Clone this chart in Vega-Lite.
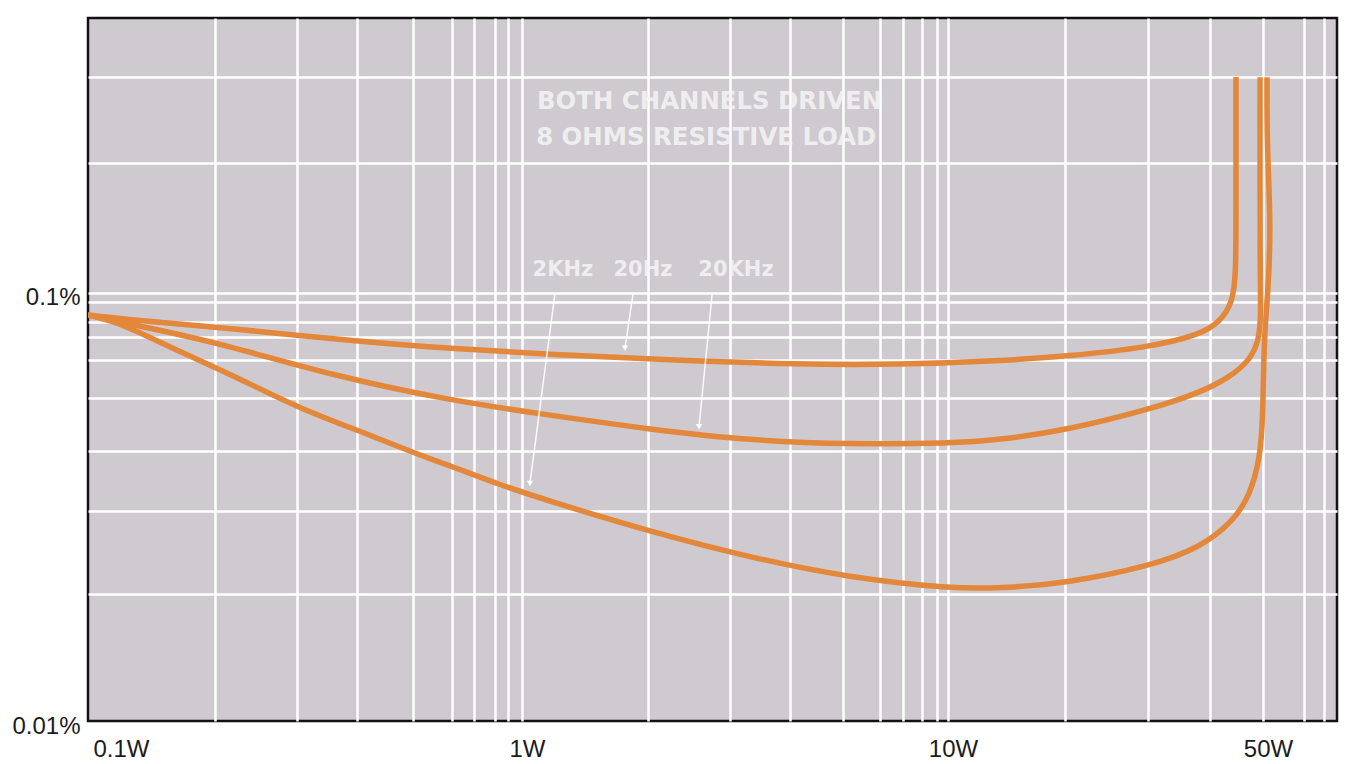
{
  "$schema": "https://vega.github.io/schema/vega-lite/v6.json",
  "width": 1249,
  "height": 703,
  "autosize": {"type": "none"},
  "padding": {"left": 88, "top": 18, "right": 9, "bottom": 43},
  "background": "white",
  "config": {
    "view": {"fill": "#cecacf", "stroke": "#111111", "strokeWidth": 2.5},
    "font": "Liberation Sans"
  },
  "datasets": {
    "curves": [
      {"series": "20Hz", "i": 0, "w": 0.1, "thd": 0.0888},
      {"series": "20Hz", "i": 1, "w": 0.1394, "thd": 0.0857},
      {"series": "20Hz", "i": 2, "w": 0.2028, "thd": 0.0832},
      {"series": "20Hz", "i": 3, "w": 0.4224, "thd": 0.077},
      {"series": "20Hz", "i": 4, "w": 0.695, "thd": 0.0742},
      {"series": "20Hz", "i": 5, "w": 1.187, "thd": 0.0719},
      {"series": "20Hz", "i": 6, "w": 2.028, "thd": 0.07},
      {"series": "20Hz", "i": 7, "w": 4.527, "thd": 0.068},
      {"series": "20Hz", "i": 8, "w": 7.73, "thd": 0.068},
      {"series": "20Hz", "i": 9, "w": 13.21, "thd": 0.0694},
      {"series": "20Hz", "i": 10, "w": 18.91, "thd": 0.0711},
      {"series": "20Hz", "i": 11, "w": 29.5, "thd": 0.0747},
      {"series": "20Hz", "i": 12, "w": 38.55, "thd": 0.0799},
      {"series": "20Hz", "i": 13, "w": 42.9, "thd": 0.0856},
      {"series": "20Hz", "i": 14, "w": 46.0, "thd": 0.0953},
      {"series": "20Hz", "i": 15, "w": 46.75, "thd": 0.1119},
      {"series": "20Hz", "i": 16, "w": 46.75, "thd": 0.1605},
      {"series": "20Hz", "i": 17, "w": 46.75, "thd": 0.2400},
      {"series": "20Hz", "i": 18, "w": 46.75, "thd": 0.3197},
      {"series": "20KHz", "i": 0, "w": 0.1, "thd": 0.0888},
      {"series": "20KHz", "i": 1, "w": 0.1143, "thd": 0.0864},
      {"series": "20KHz", "i": 2, "w": 0.1372, "thd": 0.083},
      {"series": "20KHz", "i": 3, "w": 0.2028, "thd": 0.0763},
      {"series": "20KHz", "i": 4, "w": 0.3753, "thd": 0.0639},
      {"series": "20KHz", "i": 5, "w": 0.695, "thd": 0.0561},
      {"series": "20KHz", "i": 6, "w": 1.187, "thd": 0.0518},
      {"series": "20KHz", "i": 7, "w": 2.028, "thd": 0.048},
      {"series": "20KHz", "i": 8, "w": 3.464, "thd": 0.0452},
      {"series": "20KHz", "i": 9, "w": 5.918, "thd": 0.0443},
      {"series": "20KHz", "i": 10, "w": 10.11, "thd": 0.0445},
      {"series": "20KHz", "i": 11, "w": 13.21, "thd": 0.0454},
      {"series": "20KHz", "i": 12, "w": 18.91, "thd": 0.0478},
      {"series": "20KHz", "i": 13, "w": 29.5, "thd": 0.0535},
      {"series": "20KHz", "i": 14, "w": 38.55, "thd": 0.0585},
      {"series": "20KHz", "i": 15, "w": 45.26, "thd": 0.0636},
      {"series": "20KHz", "i": 16, "w": 50.4, "thd": 0.0697},
      {"series": "20KHz", "i": 17, "w": 52.9, "thd": 0.0776},
      {"series": "20KHz", "i": 18, "w": 53.45, "thd": 0.0887},
      {"series": "20KHz", "i": 19, "w": 53.17, "thd": 0.1225},
      {"series": "20KHz", "i": 20, "w": 53.17, "thd": 0.2000},
      {"series": "20KHz", "i": 21, "w": 53.17, "thd": 0.3193},
      {"series": "2KHz", "i": 0, "w": 0.1, "thd": 0.0888},
      {"series": "2KHz", "i": 1, "w": 0.1143, "thd": 0.0859},
      {"series": "2KHz", "i": 2, "w": 0.1273, "thd": 0.0822},
      {"series": "2KHz", "i": 3, "w": 0.1637, "thd": 0.0729},
      {"series": "2KHz", "i": 4, "w": 0.2174, "thd": 0.0642},
      {"series": "2KHz", "i": 5, "w": 0.3112, "thd": 0.0536},
      {"series": "2KHz", "i": 6, "w": 0.4456, "thd": 0.0469},
      {"series": "2KHz", "i": 7, "w": 0.5822, "thd": 0.042},
      {"series": "2KHz", "i": 8, "w": 0.695, "thd": 0.0395},
      {"series": "2KHz", "i": 9, "w": 0.9082, "thd": 0.0356},
      {"series": "2KHz", "i": 10, "w": 1.187, "thd": 0.0326},
      {"series": "2KHz", "i": 11, "w": 2.028, "thd": 0.0277},
      {"series": "2KHz", "i": 12, "w": 3.464, "thd": 0.0241},
      {"series": "2KHz", "i": 13, "w": 5.918, "thd": 0.0216},
      {"series": "2KHz", "i": 14, "w": 10.11, "thd": 0.0204},
      {"series": "2KHz", "i": 15, "w": 13.21, "thd": 0.0204},
      {"series": "2KHz", "i": 16, "w": 18.91, "thd": 0.021},
      {"series": "2KHz", "i": 17, "w": 29.5, "thd": 0.023},
      {"series": "2KHz", "i": 18, "w": 38.55, "thd": 0.0254},
      {"series": "2KHz", "i": 19, "w": 46.0, "thd": 0.0292},
      {"series": "2KHz", "i": 20, "w": 50.4, "thd": 0.0337},
      {"series": "2KHz", "i": 21, "w": 53.17, "thd": 0.0411},
      {"series": "2KHz", "i": 22, "w": 54.02, "thd": 0.0509},
      {"series": "2KHz", "i": 23, "w": 54.31, "thd": 0.0796},
      {"series": "2KHz", "i": 24, "w": 55.48, "thd": 0.0988},
      {"series": "2KHz", "i": 25, "w": 56.38, "thd": 0.1439},
      {"series": "2KHz", "i": 26, "w": 55.19, "thd": 0.2200},
      {"series": "2KHz", "i": 27, "w": 55.19, "thd": 0.3192}
    ],
    "leaders": [
      {"label": "2KHz", "w": 1.219, "thd": 0.0997, "w2": 1.066, "thd2": 0.0359},
      {"label": "20Hz", "w": 1.851, "thd": 0.0994, "w2": 1.774, "thd2": 0.0743},
      {"label": "20KHz", "w": 2.827, "thd": 0.0989, "w2": 2.636, "thd2": 0.0487}
    ],
    "leaderEnds": [
      {"label": "2KHz", "w": 1.066, "thd": 0.0359},
      {"label": "20Hz", "w": 1.774, "thd": 0.0743},
      {"label": "20KHz", "w": 2.636, "thd": 0.0487}
    ],
    "freqLabels": [
      {"text": "2KHz", "w": 1.272, "thd": 0.1132},
      {"text": "20Hz", "w": 1.953, "thd": 0.1132},
      {"text": "20KHz", "w": 3.214, "thd": 0.1132}
    ],
    "notes": [
      {"text": "BOTH CHANNELS  DRIVEN", "w": 1.107, "thd": 0.2795},
      {"text": "8 OHMS RESISTIVE LOAD", "w": 1.102, "thd": 0.2302}
    ]
  },
  "encoding": {
    "x": {
      "field": "w", "type": "quantitative",
      "scale": {"type": "log", "domain": [0.1, 80.3], "nice": false},
      "axis": {
        "values": [0.1, 0.1974, 0.3062, 0.4224, 0.5699, 0.7023, 0.7903, 0.8841, 0.9478, 1.0217, 2.006, 3.112, 4.292, 5.699, 6.95, 7.858, 8.7, 9.428, 10, 18.71, 29.18, 40.67, 54.02, 67.3, 74.88],
        "labelExpr": "abs(datum.value-0.1)<1e-6 ? '0.1W' : abs(datum.value-1.0217)<1e-6 ? '1W' : abs(datum.value-10)<1e-6 ? '10W' : abs(datum.value-54.02)<1e-6 ? '50W' : ''",
        "grid": true, "gridColor": "#ffffff", "gridWidth": 2.5,
        "gridOpacity": {"condition": {"test": "abs(datum.value-0.1)<1e-6", "value": 0}, "value": 1},
        "ticks": false, "domain": false,
        "labelFont": "Liberation Sans", "labelFontSize": 24, "labelColor": "#1c1c1c",
        "labelPadding": 16, "labelFlush": true, "labelOffset": 5,
        "labelOverlap": false, "labelBound": false, "title": null
      }
    },
    "y": {
      "field": "thd", "type": "quantitative",
      "scale": {"type": "log", "domain": [0.01, 0.439], "nice": false},
      "axis": {
        "values": [0.01, 0.01982, 0.03097, 0.04276, 0.05689, 0.06966, 0.07889, 0.08551, 0.09528, 0.1, 0.2014, 0.3199],
        "labelExpr": "abs(datum.value-0.1)<1e-6 ? '0.1%' : abs(datum.value-0.01)<1e-7 ? '0.01%' : ''",
        "grid": true, "gridColor": "#ffffff", "gridWidth": 2.5,
        "gridOpacity": {"condition": {"test": "abs(datum.value-0.01)<1e-7", "value": 0}, "value": 1},
        "ticks": false, "domain": false,
        "labelFont": "Liberation Sans", "labelFontSize": 24, "labelColor": "#1c1c1c",
        "labelPadding": 8, "labelOffset": 5,
        "labelOverlap": false, "labelBound": false, "title": null
      }
    }
  },
  "layer": [
    {
      "data": {"name": "curves"},
      "mark": {"type": "line", "color": "#e3873a", "strokeWidth": 5.5, "interpolate": "basis", "strokeCap": "butt", "clip": true},
      "encoding": {
        "detail": {"field": "series", "type": "nominal"},
        "order": {"field": "i", "type": "quantitative"}
      }
    },
    {
      "data": {"name": "leaders"},
      "mark": {"type": "rule", "color": "#ffffff", "strokeWidth": 1.5, "opacity": 0.9},
      "encoding": {
        "x2": {"field": "w2"},
        "y2": {"field": "thd2"}
      }
    },
    {
      "data": {"name": "leaderEnds"},
      "mark": {"type": "point", "shape": "triangle-down", "filled": true, "color": "#ffffff", "size": 40, "opacity": 0.95}
    },
    {
      "data": {"name": "freqLabels"},
      "mark": {"type": "text", "font": "DejaVu Sans", "fontWeight": "bold", "fontSize": 21, "color": "#f6f4f6", "opacity": 0.85, "align": "center", "baseline": "middle"},
      "encoding": {
        "text": {"field": "text", "type": "nominal"}
      }
    },
    {
      "data": {"name": "notes"},
      "mark": {"type": "text", "font": "DejaVu Sans", "fontWeight": "bold", "fontSize": 24.4, "color": "#f6f4f6", "opacity": 0.85, "align": "left", "baseline": "middle"},
      "encoding": {
        "text": {"field": "text", "type": "nominal"}
      }
    }
  ]
}
